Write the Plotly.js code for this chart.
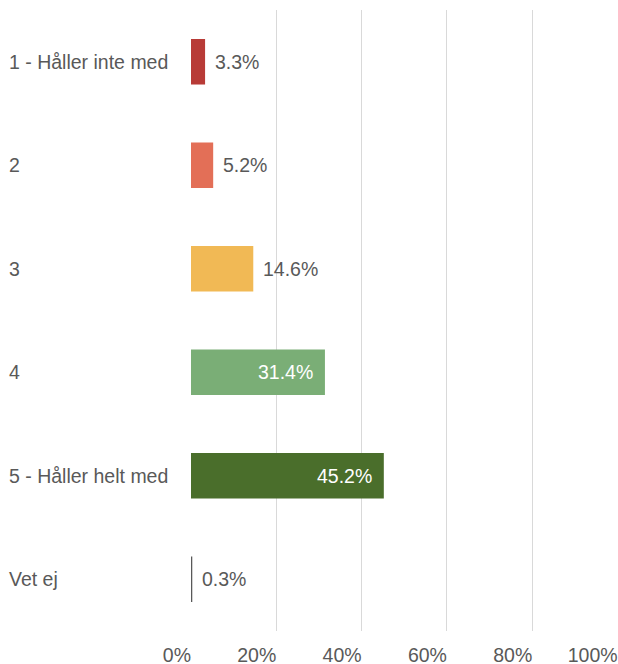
<!DOCTYPE html>
<html>
<head>
<meta charset="utf-8">
<script src="https://cdn.plot.ly/plotly-3.0.1.min.js"></script>
<style>html,body{margin:0;padding:0;background:#fff;}#chart{width:618px;height:664px;}</style>
</head>
<body>
<div id="chart"></div>
<script>
var categories = ["1 - Håller inte med", "2", "3", "4", "5 - Håller helt med", "Vet ej"];
var values = [3.3, 5.2, 14.6, 31.4, 45.2, 0.3];
var colors = ["#b83b37", "#e36f57", "#f1b955", "#7aae76", "#4a6e2b", "#595959"];
var labelInside = [false, false, false, true, true, false];
var tickVals = [0, 20, 40, 60, 80, 100];
var tickText = ["0%", "20%", "40%", "60%", "80%", "100%"];

var FONT = "Liberation Sans, Arial, sans-serif";
var GRAY = "#595959";
var FS = 19.5;

var annotations = [];
categories.forEach(function (c, i) {
  annotations.push({
    xref: "paper", yref: "y", x: 0, y: i, text: c, showarrow: false,
    xanchor: "left", yanchor: "middle", xshift: -184,
    font: {family: FONT, size: FS, color: GRAY}
  });
  var inside = labelInside[i];
  annotations.push({
    xref: "x", yref: "y", x: values[i], y: i, text: values[i].toFixed(1) + "%",
    showarrow: false, xanchor: inside ? "right" : "left", yanchor: "middle",
    xshift: inside ? -10 : 8,
    font: {family: FONT, size: FS, color: inside ? "#ffffff" : GRAY}
  });
});

var trace = {
  type: "bar", orientation: "h",
  x: values, y: categories,
  marker: {color: colors},
  hoverinfo: "none"
};

var layout = {
  width: 618, height: 664,
  margin: {l: 191, r: 0, t: 10, b: 33},
  paper_bgcolor: "#ffffff", plot_bgcolor: "#ffffff",
  bargap: 0.56,
  showlegend: false,
  xaxis: {
    range: [0, 100.1], tickvals: tickVals, ticktext: tickText,
    showgrid: true, gridcolor: "#d9d9d9", gridwidth: 1,
    zeroline: false, showline: false, ticks: "",
    ticklabelposition: "outside left",
    ticklabelstandoff: 10,
    tickfont: {family: FONT, size: FS, color: GRAY},
    fixedrange: true
  },
  yaxis: {
    type: "category", categoryorder: "array", categoryarray: categories,
    autorange: "reversed", showticklabels: false, showgrid: false,
    zeroline: false, showline: false, ticks: "", fixedrange: true
  },
  annotations: annotations
};

Plotly.newPlot("chart", [trace], layout, {displayModeBar: false, staticPlot: true});
</script>
</body>
</html>
